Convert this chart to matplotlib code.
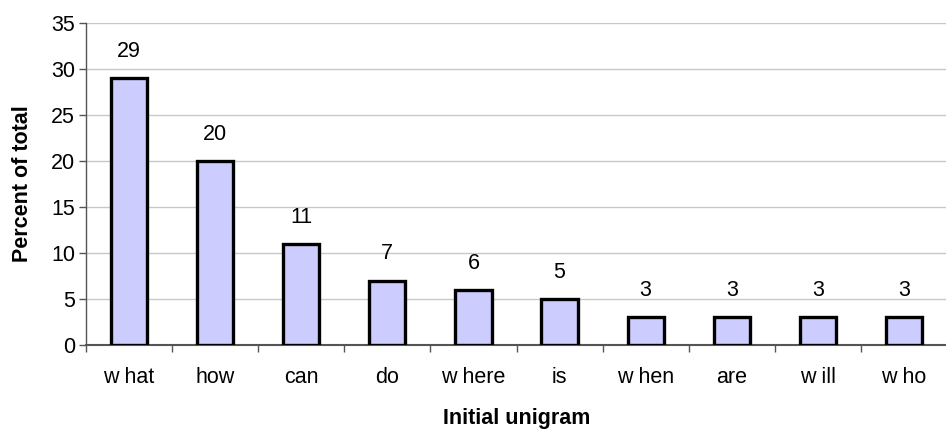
import matplotlib
matplotlib.use("Agg")
import matplotlib.pyplot as plt
import numpy as np

categories = ["w hat", "how", "can", "do", "w here", "is", "w hen", "are", "w ill", "w ho"]
percent = [29, 20, 11, 7, 6, 5, 3, 3, 3, 3]
y_ticks = [0, 5, 10, 15, 20, 25, 30, 35]

plt.rcParams["font.family"] = ["Liberation Sans", "DejaVu Sans"]
FS = 15.5

fig = plt.figure(figsize=(9.46, 4.29), dpi=100)
ax = fig.add_axes([86 / 946, 1 - 345 / 429, 861 / 946, 322 / 429])

x = np.arange(len(categories))
ax.bar(x, percent, width=0.42, color="#CCCCFF", edgecolor="black", linewidth=2.4, zorder=3)

for xi, v in zip(x, percent):
    ax.text(xi, v + 2.9, str(v), ha="center", va="center", fontsize=FS, color="black")

ax.set_xlim(-0.5, len(categories) - 0.5)
ax.set_ylim(0, 35)
ax.set_yticks(y_ticks)
ax.set_yticklabels([str(t) for t in y_ticks], fontsize=FS)
ax.yaxis.grid(True, color="#c8c8c8", linewidth=1.0, zorder=0)

# category labels centred under bars, tick marks at category boundaries
ax.set_xticks(x)
ax.set_xticklabels(categories, fontsize=FS)
ax.tick_params(axis="x", which="major", length=0, pad=16)
ax.set_xticks(np.arange(len(categories) + 1) - 0.5, minor=True)
ax.tick_params(axis="x", which="minor", length=5, width=1, color="#555555", direction="out")
ax.tick_params(axis="y", length=5, width=1, color="#555555", direction="out", pad=3)

for side in ["top", "right"]:
    ax.spines[side].set_visible(False)
ax.spines["left"].set_color("#555555")
ax.spines["bottom"].set_color("#555555")
ax.spines["left"].set_linewidth(1.0)
ax.spines["bottom"].set_linewidth(1.5)

ax.set_ylabel("Percent of total", fontsize=FS, fontweight="bold", labelpad=13)
fig.text(ax.get_position().x0 + ax.get_position().width / 2, 1 - 424 / 429,
         "Initial unigram", fontsize=FS, fontweight="bold",
         ha="center", va="baseline")

fig.savefig("out.png", dpi=100)
